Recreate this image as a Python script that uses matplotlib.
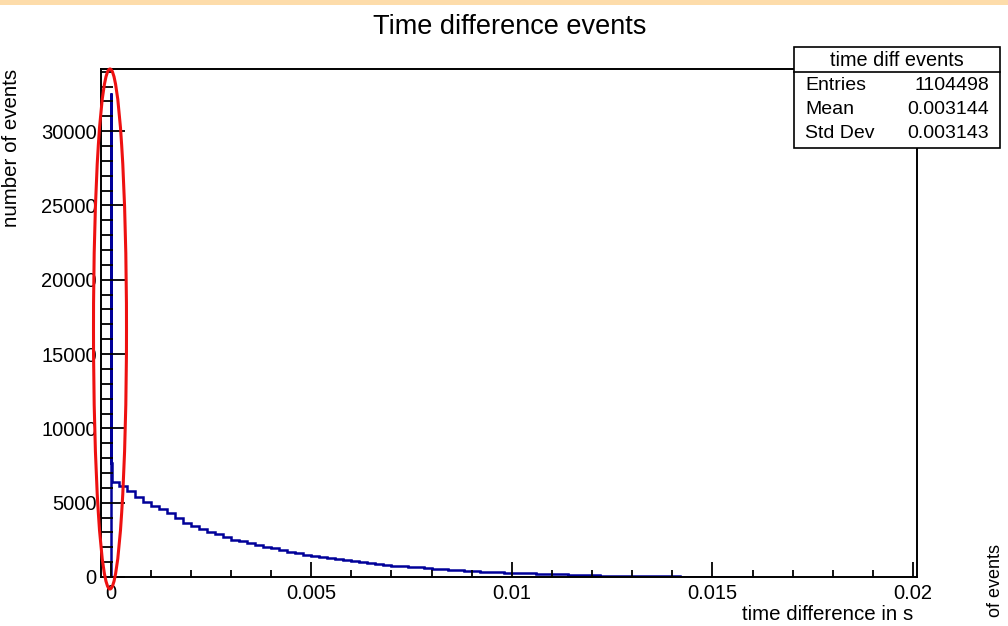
import numpy as np
import matplotlib
matplotlib.use("Agg")
import matplotlib.pyplot as plt
from matplotlib.patches import Ellipse, Rectangle
from matplotlib.ticker import MultipleLocator

plt.rcParams["font.family"] = ["Liberation Sans", "DejaVu Sans"]

# Histogram data
# narrow bins at the start (the spike)
spike_edges = [0.0, 0.00002, 0.00004, 0.0002]
spike_counts = [32550, 7700, 6400]

# then 0.0002 wide bins from 0.0002 to 0.016
tail_counts = [
    6100, 5800, 5400, 5050, 4800, 4550, 4300, 3950, 3650, 3400,
    3250, 3050, 2900, 2700, 2500, 2400, 2300, 2150, 2050, 1950,
    1800, 1700, 1600, 1500, 1420, 1350, 1280, 1200, 1120, 1050,
    1000, 940, 880, 820, 760, 720, 680, 640, 580, 540,
    510, 470, 440, 400, 380, 360, 330, 310, 290, 270,
    250, 240, 210, 200, 180, 170, 150, 140, 130, 110,
    100, 90, 80, 70, 60, 55, 50, 45, 40, 35,
    30, 28, 25, 22, 20, 15, 10, 8, 0,
]
tail_width = 0.0002

x_ticks = [0, 0.005, 0.01, 0.015, 0.02]
x_tick_labels = ["0", "0.005", "0.01", "0.015", "0.02"]
y_ticks = [0, 5000, 10000, 15000, 20000, 25000, 30000]

stats_name = "time diff events"
stats_rows = [("Entries", "1104498"), ("Mean", "0.003144"), ("Std Dev", "0.003143")]

W, H = 1008, 626
fig = plt.figure(figsize=(W / 100, H / 100), dpi=100)

def fx(px):
    return px / W

def fy(py):
    return 1 - py / H

ax = fig.add_axes([fx(101), fy(577), fx(917) - fx(101), fy(69) - fy(577)])

edges = list(spike_edges) + [spike_edges[-1] + tail_width * (i + 1) for i in range(len(tail_counts))]
counts = spike_counts + tail_counts
ax.stairs(counts, edges, color="#000099", linewidth=1.8, baseline=0)

ax.set_xlim(-0.00024, 0.0201)
ax.set_ylim(0, 34180)

ax.set_xticks(x_ticks)
ax.set_xticklabels(x_tick_labels)
ax.set_yticks(y_ticks)
ax.set_yticklabels([str(v) for v in y_ticks])
ax.xaxis.set_minor_locator(MultipleLocator(0.001))
ax.yaxis.set_minor_locator(MultipleLocator(1000))

ax.tick_params(which="both", direction="in", top=False, right=False,
               width=1.3, color="black", labelsize=14.5)
ax.tick_params(axis="y", which="major", length=17.3, pad=3)
ax.tick_params(axis="y", which="minor", length=8.6)
ax.tick_params(axis="x", which="major", length=10.8, pad=5)
ax.tick_params(axis="x", which="minor", length=5.4)
for s in ax.spines.values():
    s.set_linewidth(1.4)

# titles and axis labels
fig.text(fx(510), fy(27), "Time difference events", ha="center", va="center", fontsize=19.5)
fig.text(fx(913), fy(614), "time difference in s", ha="right", va="center", fontsize=14.8)
fig.text(fx(12), fy(69), "number of events", ha="center", va="top", rotation=90, fontsize=14.8)
# visible part of the neighbouring plot's label
fig.text(fx(996), fy(544), "of events", ha="center", va="top", rotation=90, fontsize=13)

# stats box
fig.add_artist(Rectangle((fx(794), fy(148)), fx(1000) - fx(794), fy(47) - fy(148),
                         transform=fig.transFigure, facecolor="white", edgecolor="black",
                         linewidth=1.2, zorder=5))
fig.add_artist(plt.Line2D([fx(794), fx(1000)], [fy(72), fy(72)], transform=fig.transFigure,
                          color="black", linewidth=1.2, zorder=6))
fig.text(fx(897), fy(60), stats_name, ha="center", va="center", fontsize=14.3, zorder=7)
row_y = [86, 109, 134]
for (lab, val), yy in zip(stats_rows, row_y):
    fig.text(fx(805), fy(yy), lab, ha="left", va="center", fontsize=14, zorder=7)
    fig.text(fx(989), fy(yy), val, ha="right", va="center", fontsize=14, zorder=7)

# red ellipse annotation
fig.add_artist(Ellipse((fx(110), fy(329)), fx(33), 520 / H, transform=fig.transFigure,
                       fill=False, edgecolor="#ee1111", linewidth=2.2, zorder=8))

# orange band on top
fig.add_artist(Rectangle((0, fy(5)), 1, 5 / H, transform=fig.transFigure,
                         facecolor="#fddcaa", edgecolor="none", zorder=9))

fig.savefig("out.png", dpi=100)
